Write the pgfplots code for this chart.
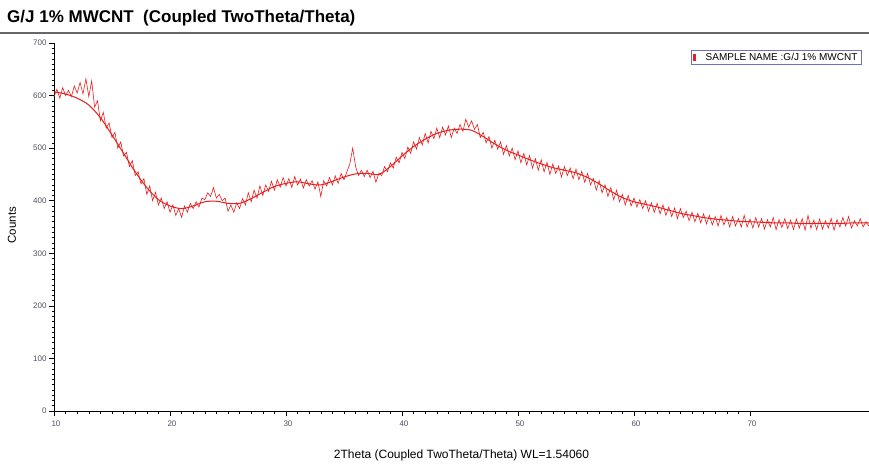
\documentclass[border=0pt]{standalone}
\usepackage{fontspec}
\setmainfont{Liberation Sans}
\usepackage{pgfplots}
\pgfplotsset{compat=1.18}
\definecolor{xrdred}{RGB}{235,30,30}
\definecolor{tickgray}{RGB}{80,80,95}
\begin{document}
\begin{tikzpicture}[x=1pt,y=1pt]
\useasboundingbox (0,0) rectangle (869,468);
\fill[white] (0,0) rectangle (869,468);
\node[anchor=base west,inner sep=0pt,font=\fontsize{17}{19}\selectfont\bfseries] at (7,445) {G/J 1\% MWCNT\ \ (Coupled TwoTheta/Theta)};
\draw[gray!80!black,line width=1.2pt] (0,435) -- (869,435);
\begin{axis}[
  at={(54pt,57pt)}, anchor=south west,
  scale only axis, width=815pt, height=368pt,
  xmin=10, xmax=80.26, ymin=0, ymax=700,
  axis x line=bottom, axis y line=left,
  axis line style={-, black, line width=0.8pt},
  tick align=outside,
  xtick={10,20,...,70}, ytick={0,100,...,700},
  minor x tick num=9, minor y tick num=9,
  major tick length=5pt, minor tick length=2.5pt,
  tick style={black, line width=0.6pt},
  minor tick style={black, line width=0.5pt},
  /pgf/number format/assume math mode=true,
  ticklabel style={font=\fontsize{8}{9}\selectfont, text=tickgray},
  xticklabel style={xshift=2pt, yshift=-1pt},
  yticklabel style={xshift=1pt},
  xlabel={2Theta (Coupled TwoTheta/Theta) WL=1.54060},
  xlabel style={font=\fontsize{12}{13}\selectfont, at={(axis description cs:0.5,0)}, anchor=base, yshift=-47pt},
  ylabel={Counts},
  ylabel style={font=\fontsize{11.5}{13}\selectfont, at={(axis description cs:-0.0515,0.505)}, anchor=center},
  legend style={at={(rel axis cs:0.991,0.981)}, anchor=north east, draw=gray!60!blue!80, line width=0.6pt,
    font=\fontsize{10}{11}\selectfont, inner xsep=2pt, inner ysep=0.5pt, row sep=0pt},
  legend cell align=left,
  clip=false,
]
\addplot[xrdred, line width=0.6pt, legend image code/.code={\draw[xrdred,line width=2.2pt] (0.1cm,-0.12cm) -- (0.1cm,0.1cm);}] coordinates {
(10.00,598)(10.25,612)(10.50,595)(10.75,615)(11.00,600)(11.25,610)(11.50,598)(11.75,618)
(12.00,605)(12.25,625)(12.50,603)(12.75,632)(13.00,598)(13.25,628)(13.50,578)(13.75,590)
(14.00,552)(14.25,568)(14.50,538)(14.75,548)(15.00,520)(15.25,530)(15.50,500)(15.75,512)
(16.00,485)(16.25,492)(16.50,465)(16.75,476)(17.00,448)(17.25,455)(17.50,432)(17.75,442)
(18.00,412)(18.25,428)(18.50,400)(18.75,416)(19.00,392)(19.25,405)(19.50,385)(19.75,398)
(20.00,378)(20.25,392)(20.50,372)(20.75,385)(21.00,368)(21.25,390)(21.50,378)(21.75,395)
(22.00,385)(22.25,398)(22.50,388)(22.75,405)(23.00,402)(23.25,415)(23.50,408)(23.75,425)
(24.00,405)(24.25,412)(24.50,400)(24.75,405)(25.00,380)(25.25,392)(25.50,378)(25.75,396)
(26.00,385)(26.25,404)(26.50,392)(26.75,415)(27.00,398)(27.25,420)(27.50,405)(27.75,428)
(28.00,410)(28.25,430)(28.50,418)(28.75,437)(29.00,420)(29.25,440)(29.50,426)(29.75,444)
(30.00,428)(30.25,442)(30.50,425)(30.75,446)(31.00,430)(31.25,441)(31.50,424)(31.75,440)
(32.00,428)(32.25,438)(32.50,422)(32.75,436)(33.00,408)(33.25,438)(33.50,428)(33.75,444)
(34.00,430)(34.25,447)(34.50,433)(34.75,452)(35.00,440)(35.25,455)(35.50,470)(35.75,500)
(36.00,465)(36.25,448)(36.50,458)(36.75,446)(37.00,458)(37.25,444)(37.50,456)(37.75,435)
(38.00,452)(38.25,448)(38.50,465)(38.75,455)(39.00,472)(39.25,462)(39.50,483)(39.75,472)
(40.00,492)(40.25,480)(40.50,502)(40.75,490)(41.00,512)(41.25,498)(41.50,520)(41.75,506)
(42.00,528)(42.25,510)(42.50,532)(42.75,518)(43.00,538)(43.25,520)(43.50,540)(43.75,525)
(44.00,542)(44.25,520)(44.50,538)(44.75,528)(45.00,545)(45.25,532)(45.50,555)(45.75,540)
(46.00,552)(46.25,536)(46.50,545)(46.75,520)(47.00,530)(47.25,510)(47.50,522)(47.75,500)
(48.00,515)(48.25,498)(48.50,512)(48.75,488)(49.00,505)(49.25,485)(49.50,500)(49.75,478)
(50.00,495)(50.25,472)(50.50,490)(50.75,468)(51.00,486)(51.25,462)(51.50,480)(51.75,458)
(52.00,478)(52.25,455)(52.50,473)(52.75,450)(53.00,470)(53.25,452)(53.50,466)(53.75,445)
(54.00,465)(54.25,448)(54.50,462)(54.75,442)(55.00,460)(55.25,440)(55.50,456)(55.75,435)
(56.00,452)(56.25,430)(56.50,442)(56.75,420)(57.00,438)(57.25,415)(57.50,430)(57.75,408)
(58.00,425)(58.25,402)(58.50,420)(58.75,398)(59.00,412)(59.25,392)(59.50,410)(59.75,390)
(60.00,405)(60.25,388)(60.50,402)(60.75,385)(61.00,400)(61.25,380)(61.50,396)(61.75,378)
(62.00,395)(62.25,375)(62.50,392)(62.75,372)(63.00,388)(63.25,370)(63.50,386)(63.75,366)
(64.00,385)(64.25,368)(64.50,380)(64.75,362)(65.00,378)(65.25,360)(65.50,376)(65.75,358)
(66.00,375)(66.25,356)(66.50,372)(66.75,354)(67.00,370)(67.25,352)(67.50,372)(67.75,354)
(68.00,368)(68.25,350)(68.50,370)(68.75,352)(69.00,366)(69.25,350)(69.50,372)(69.75,350)
(70.00,365)(70.25,348)(70.50,368)(70.75,350)(71.00,366)(71.25,346)(71.50,364)(71.75,350)
(72.00,368)(72.25,345)(72.50,364)(72.75,349)(73.00,366)(73.25,347)(73.50,363)(73.75,345)
(74.00,365)(74.25,348)(74.50,366)(74.75,344)(75.00,372)(75.25,348)(75.50,363)(75.75,345)
(76.00,365)(76.25,346)(76.50,362)(76.75,348)(77.00,366)(77.25,344)(77.50,364)(77.75,350)
(78.00,368)(78.25,352)(78.50,370)(78.75,348)(79.00,362)(79.25,352)(79.50,366)(79.75,350)
(80.00,360)(80.25,352)
};
\addlegendentry{\hspace{8pt}SAMPLE NAME :G/J 1\% MWCNT}
\addplot[xrdred, line width=1pt, smooth, forget plot] coordinates {
(10,607)(11,603)(12,595)(13,582)(14,558)(15,525)(16,490)(17,455)(18,425)(19,402)
(20,390)(21,385)(22,390)(23,398)(24,399)(25,395)(26,395)(27,404)(28,416)(29,427)
(30,433)(31,436)(32,432)(33,430)(34,437)(35,445)(36,451)(37,452)(38,450)(39,465)
(40,485)(41,503)(42,517)(43,528)(44,534)(45,536)(46,534)(47,522)(48,508)(49,496)
(50,487)(51,478)(52,470)(53,463)(54,458)(55,453)(56,444)(57,432)(58,418)(59,406)
(60,398)(61,393)(62,388)(63,382)(64,376)(65,372)(66,368)(67,365)(68,363)(69,361)
(70,360)(71,359)(72,358)(73,358)(74,357)(75,357)(76,357)(77,357)(78,357)(79,358)
(80,358)(80.26,358)
};
\end{axis}
\end{tikzpicture}
\end{document}
